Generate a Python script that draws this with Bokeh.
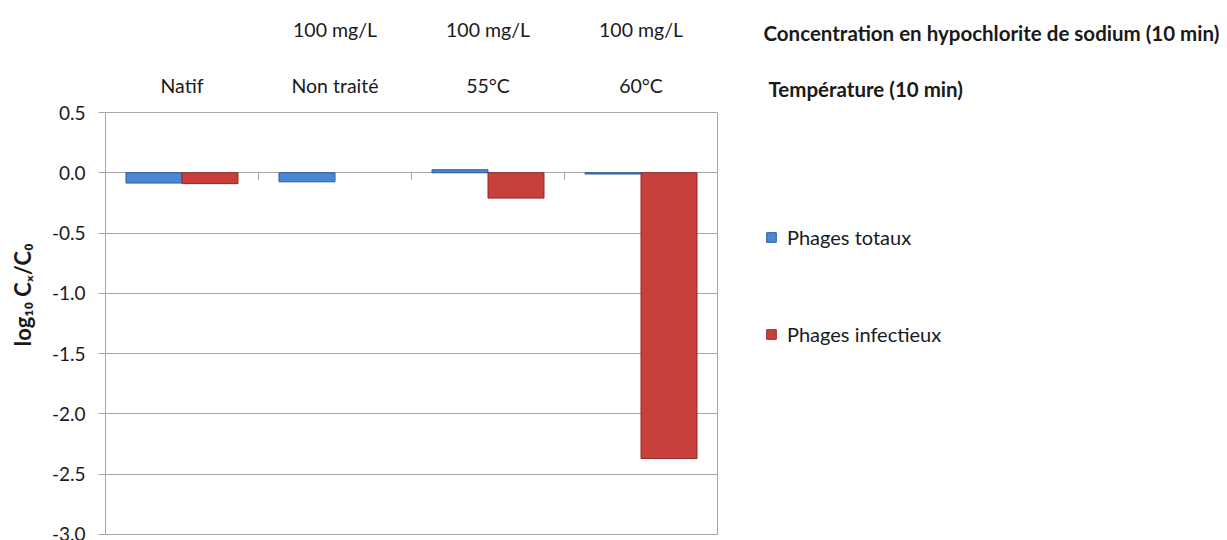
from bokeh.plotting import figure
from bokeh.layouts import row
from bokeh.models import (ColumnDataSource, Range1d, CategoricalAxis, Legend, Title,
                          LegendItem, SingleIntervalTicker, NumeralTickFormatter,
                          CustomJSTickFormatter)
from bokeh.core.properties import value
from bokeh.transform import dodge
from bokeh.embed import file_html
from bokeh.resources import INLINE

categories = ["Natif", "Non traité", "55°C", "60°C"]
concentration_labels = ["", "100 mg/L", "100 mg/L", "100 mg/L"]
phages_totaux = [-0.085, -0.075, 0.025, -0.01]
phages_infectieux = [-0.09, 0.0, -0.21, -2.37]

row_title_conc = "Concentration en hypochlorite de sodium (10 min)"
row_title_temp = "Température (10 min)"
y_title = "log₁₀ Cₓ/C₀"
series_names = ["Phages totaux", "Phages infectieux"]

FONT = "Lato"
TXT = "#1a1a1a"
GRID = "#a6a6a6"
BLUE, BLUE_EDGE = "#4A88D6", "#2C5A9A"
RED, RED_EDGE = "#C93F3B", "#8E2A27"
H = 540
TOP = 106        # frame top, shared by the row
BOT = 6          # bottom border, shared by the row

def blank(width):
    # frame covers canvas rows TOP..H-BOT ; y range in canvas pixels (0 = top)
    f = figure(width=width, height=H, x_range=Range1d(0, width), y_range=Range1d(H - BOT, TOP),
               output_backend="svg", toolbar_location=None, x_axis_location=None,
               y_axis_location=None, min_border=0, min_border_left=0, min_border_right=0,
               min_border_top=TOP, min_border_bottom=BOT)
    f.outline_line_color = None
    f.xgrid.grid_line_color = None
    f.ygrid.grid_line_color = None
    return f

# ---- left strip: y-axis title
L = blank(48)
L.text(x=[22], y=[291], text=[y_title], angle=1.5708, text_font=value(FONT),
       text_font_style="bold", text_font_size="22px", text_color=TXT,
       text_align="center", text_baseline="middle")

# ---- main chart
src = ColumnDataSource(dict(
    cat=categories, tot=phages_totaux, inf=phages_infectieux,
    tot_la=[0.0 if v == 0 else 1.0 for v in phages_totaux],
    inf_la=[0.0 if v == 0 else 1.0 for v in phages_infectieux]))
nb = len(categories) - 1
tick_src = ColumnDataSource(dict(cat=categories[:-1], y0=[0.0] * nb, y1=[-0.057] * nb))

p = figure(x_range=categories, y_range=Range1d(-3.0, 0.5), width=692, height=H,
           output_backend="svg", toolbar_location=None, x_axis_location=None,
           min_border_left=56, min_border_right=23, min_border_top=TOP, min_border_bottom=BOT)
p.outline_line_color = GRID
p.outline_line_width = 1

bw = 0.366
r1 = p.vbar(x=dodge("cat", -bw / 2, range=p.x_range), top="tot", bottom=0, width=bw, source=src,
            fill_color=BLUE, line_color=BLUE_EDGE, line_alpha="tot_la", line_width=1)
r2 = p.vbar(x=dodge("cat", bw / 2, range=p.x_range), top="inf", bottom=0, width=bw, source=src,
            fill_color=RED, line_color=RED_EDGE, line_alpha="inf_la", line_width=1)

p.segment(x0=dodge("cat", 0.5, range=p.x_range), x1=dodge("cat", 0.5, range=p.x_range),
          y0="y0", y1="y1", source=tick_src, line_color=GRID, line_width=1)

p.yaxis.ticker = SingleIntervalTicker(interval=0.5)
p.yaxis.formatter = NumeralTickFormatter(format="0.0")
p.yaxis.minor_tick_line_color = None
p.yaxis.major_tick_out = 7
p.yaxis.major_tick_in = 0
p.yaxis.axis_line_color = GRID
p.yaxis.major_tick_line_color = GRID
p.yaxis.major_label_text_font = FONT
p.yaxis.major_label_text_font_size = "19px"
p.yaxis.major_label_text_color = TXT
p.yaxis.major_label_standoff = 13

p.xgrid.grid_line_color = None
p.ygrid.grid_line_color = GRID
p.ygrid.grid_line_width = 1

def top_axis(standoff, formatter=None):
    ax = CategoricalAxis(axis_line_color=None, major_tick_line_color=None,
                         minor_tick_line_color=None, major_tick_out=0, major_tick_in=0,
                         major_label_text_font=FONT, major_label_text_font_size="19.5px",
                         major_label_text_color=TXT, major_label_standoff=standoff)
    if formatter is not None:
        ax.formatter = formatter
    return ax

p.add_layout(top_axis(16), "above")
conc_fmt = CustomJSTickFormatter(args=dict(cats=categories, labels=concentration_labels),
                                 code="const i = cats.indexOf(tick); return i >= 0 ? labels[i] : '';")
p.add_layout(top_axis(30, conc_fmt), "above")

# ---- right side: row titles and legend
R = blank(487)
R.add_layout(Title(text=row_title_temp, align="left", offset=28, standoff=23,
                   text_font=FONT, text_font_style="bold", text_font_size="20.5px",
                   text_color=TXT), "above")
R.add_layout(Title(text=row_title_conc, align="left", offset=23, standoff=37,
                   text_font=FONT, text_font_style="bold", text_font_size="20.5px",
                   text_color=TXT), "above")
# legend proxies (kept outside the visible range)
d1 = R.rect(x=[-50], y=[300], width=1, height=1, fill_color=BLUE, line_color=BLUE_EDGE)
d2 = R.rect(x=[-50], y=[300], width=1, height=1, fill_color=RED, line_color=RED_EDGE)
legend = Legend(items=[LegendItem(label=series_names[0], renderers=[d1]),
                       LegendItem(label=series_names[1], renderers=[d2])],
                location=(25, 188), orientation="vertical", spacing=73,
                glyph_width=12, glyph_height=12, label_height=20, label_standoff=10,
                padding=0, margin=0, border_line_color=None, background_fill_alpha=0,
                label_text_font=FONT, label_text_font_size="20px", label_text_color=TXT)
R.add_layout(legend)

layout = row(L, p, R, spacing=0)
open("out.html", "w").write(file_html(layout, INLINE))
